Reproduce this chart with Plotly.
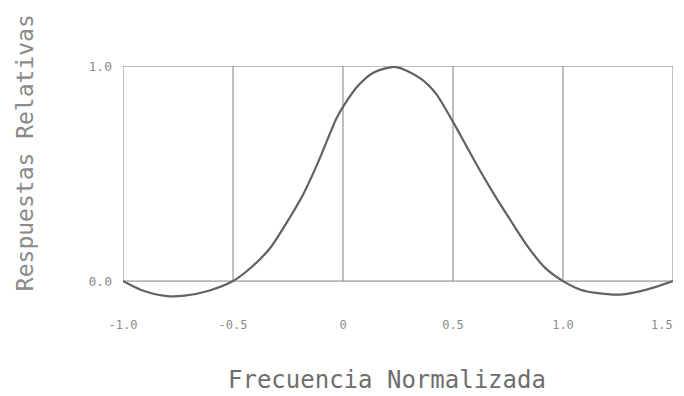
import plotly.graph_objs as go

# values
freq = [-1.0, -0.92, -0.8, -0.72, -0.61, -0.5, -0.41, -0.33, -0.26, -0.18, -0.11, -0.03,
        0.0, 0.07, 0.14, 0.24, 0.35, 0.42, 0.5, 0.565, 0.6, 0.68, 0.76, 0.84, 0.92,
        1.0, 1.08, 1.15, 1.26, 1.38, 1.5]
resp = [0.0, -0.04, -0.07, -0.068, -0.045, 0.0, 0.07, 0.155, 0.265, 0.405, 0.56, 0.756,
        0.81, 0.91, 0.97, 0.995, 0.944, 0.875, 0.74, 0.62, 0.555, 0.415, 0.285, 0.16, 0.06,
        0.0, -0.04, -0.055, -0.063, -0.04, 0.0]

x_ticks = [-1.0, -0.5, 0.0, 0.5, 1.0, 1.5]
x_labels = ['-1.0', '-0.5', '0', '0.5', '1.0', '1.5']
y_ticks = [0.0, 1.0]
y_labels = ['0.0', '1.0']

grid_color = '#808080'
text_color = '#8c8c8c'
lettering = 'DejaVu Sans Mono'
tick_font = dict(family=lettering, size=12, color=text_color)

fig = go.Figure(go.Scatter(x=freq, y=resp, mode='lines',
                           line=dict(color='#626262', width=2.2, shape='spline', smoothing=0.8),
                           hoverinfo='skip'))

# box and vertical grid lines only span 0..1
shapes = [dict(type='line', xref='x', yref='y', x0=xt, x1=xt, y0=y_ticks[0], y1=y_ticks[-1],
               line=dict(color=grid_color, width=1), layer='below') for xt in x_ticks]
for yt in y_ticks:
    shapes.append(dict(type='line', xref='x', yref='y', x0=x_ticks[0], x1=x_ticks[-1], y0=yt, y1=yt,
                       line=dict(color=grid_color, width=1), layer='below'))

fig.update_layout(
    width=684, height=396,
    margin=dict(l=115, r=19, t=58, b=104, autoexpand=False),
    paper_bgcolor='white', plot_bgcolor='white',
    showlegend=False,
    shapes=shapes,
    font=dict(family=lettering, color=text_color),
    annotations=[
        dict(text='Frecuencia Normalizada', xref='paper', yref='paper', x=0.48, y=-0.342,
             xanchor='center', yanchor='middle', showarrow=False,
             font=dict(family=lettering, size=24, color='#6e6e6e')),
        dict(text='Respuestas Relativas', xref='paper', yref='paper', x=-0.178, y=0.628,
             xanchor='center', yanchor='middle', textangle=-90, showarrow=False,
             font=dict(family=lettering, size=23, color='#8a8a8a')),
        # last tick label sits on the page edge, so right-align it to keep it whole
        dict(text=x_labels[-1], xref='x', yref='paper', x=x_ticks[-1], y=-0.107,
             xanchor='right', yanchor='middle', xshift=2, showarrow=False, font=tick_font),
    ],
)
fig.update_xaxes(range=[-1.0, 1.5], tickvals=x_ticks[:-1], ticktext=x_labels[:-1], showgrid=False,
                 zeroline=False, showline=False, ticks='', automargin=False,
                 tickfont=tick_font, ticklabelstandoff=16)
fig.update_yaxes(range=[-0.088, 1.0], tickvals=y_ticks, ticktext=y_labels, showgrid=False,
                 zeroline=False, showline=False, ticks='', automargin=False,
                 tickfont=dict(family=lettering, size=13, color=text_color),
                 ticklabelstandoff=10)

fig.write_html('out.html')
